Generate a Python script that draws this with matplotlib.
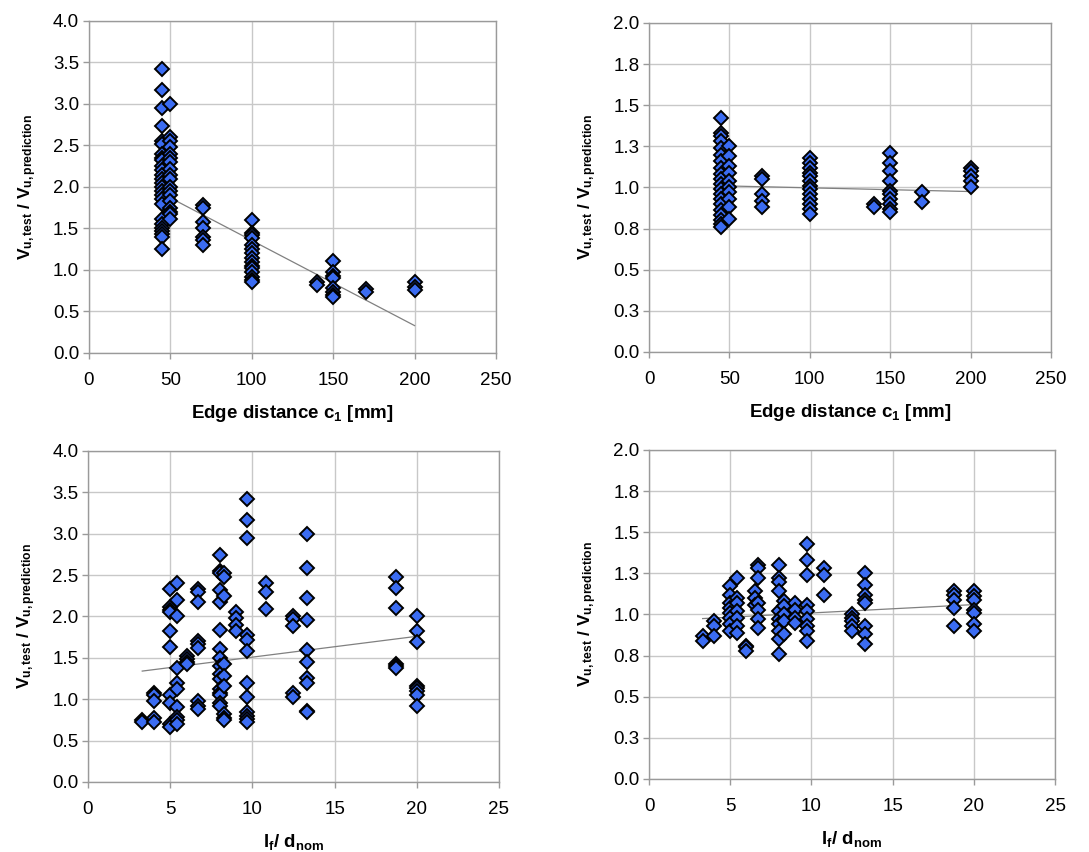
import numpy as np
import matplotlib
matplotlib.use("Agg")
import matplotlib.pyplot as plt

plt.rcParams['font.family'] = ['Liberation Sans', 'DejaVu Sans']
plt.rcParams['mathtext.fontset'] = 'custom'
plt.rcParams['mathtext.rm'] = 'Liberation Sans'
plt.rcParams['mathtext.bf'] = 'Liberation Sans:bold'
plt.rcParams['mathtext.it'] = 'Liberation Sans:italic'

#------------------------------------------------------------------------------
# Datos (agrupados por columna x)

# Arriba izquierda: distancia al borde c1 vs Vu,test/Vu,prediction
c1_izq = {
    45: [3.42, 3.17, 2.95, 2.73, 2.55, 2.52, 2.40, 2.35, 2.32, 2.25, 2.20, 2.15, 2.10,
         2.05, 2.00, 1.95, 1.90, 1.85, 1.80, 1.62, 1.55, 1.50, 1.47, 1.43, 1.40, 1.25],
    50: [3.00, 2.60, 2.55, 2.48, 2.40, 2.35, 2.30, 2.22, 2.15, 2.10, 2.00, 1.95, 1.90,
         1.83, 1.75, 1.70, 1.67, 1.62],
    70: [1.78, 1.75, 1.58, 1.50, 1.40, 1.36, 1.30],
    100: [1.60, 1.45, 1.42, 1.38, 1.30, 1.25, 1.20, 1.15, 1.10, 1.05, 1.02, 0.97,
          0.92, 0.88, 0.85],
    140: [0.85, 0.82],
    150: [1.11, 0.97, 0.93, 0.90, 0.78, 0.73, 0.70, 0.67],
    170: [0.77, 0.73],
    200: [0.85, 0.80, 0.76],
}
tend_c1_izq_x = [45, 200]
tend_c1_izq_y = [1.92, 0.33]

# Arriba derecha
c1_der = {
    45: [1.42, 1.33, 1.31, 1.28, 1.24, 1.20, 1.16, 1.12, 1.08, 1.05, 1.02, 0.99, 0.96,
         0.93, 0.90, 0.86, 0.83, 0.80, 0.78, 0.76],
    50: [1.25, 1.19, 1.13, 1.09, 1.04, 1.00, 0.97, 0.93, 0.88, 0.81],
    70: [1.07, 1.05, 0.96, 0.92, 0.88],
    100: [1.18, 1.15, 1.12, 1.09, 1.07, 1.04, 1.01, 0.99, 0.96, 0.93, 0.90, 0.87, 0.84],
    140: [0.90, 0.88],
    150: [1.21, 1.15, 1.10, 1.04, 0.98, 0.96, 0.93, 0.90, 0.87, 0.85],
    170: [0.97, 0.91],
    200: [1.12, 1.10, 1.07, 1.04, 1.00],
}
tend_c1_der_x = [45, 200]
tend_c1_der_y = [1.01, 0.975]

# Abajo izquierda: lf/dnom vs Vu,test/Vu,prediction
lf_izq = {
    3.3: [0.75, 0.73],
    4.0: [1.08, 1.05, 0.98, 0.77, 0.73],
    5.0: [2.33, 2.12, 2.08, 2.05, 1.82, 1.63, 1.05, 0.96, 0.70, 0.67],
    5.4: [2.40, 2.20, 2.00, 1.38, 1.19, 1.12, 0.90, 0.78, 0.75, 0.70],
    6.0: [1.52, 1.48, 1.45, 1.42],
    6.7: [2.33, 2.30, 2.17, 1.70, 1.67, 1.62, 0.98, 0.92, 0.88],
    8.0: [2.74, 2.55, 2.52, 2.32, 2.18, 1.84, 1.61, 1.50, 1.40, 1.30, 1.25, 1.12,
          1.08, 1.05, 0.95, 0.92],
    8.3: [2.53, 2.48, 2.25, 1.42, 1.28, 1.16, 0.82, 0.77, 0.75],
    9.0: [2.05, 1.98, 1.90, 1.82],
    9.7: [3.42, 3.17, 2.95, 1.78, 1.72, 1.58, 1.20, 1.03, 0.85, 0.80, 0.76, 0.73],
    10.8: [2.40, 2.30, 2.09],
    12.5: [2.00, 1.97, 1.88, 1.07, 1.03],
    13.3: [3.00, 2.59, 2.22, 1.96, 1.60, 1.45, 1.26, 1.19, 0.86, 0.84],
    18.75: [2.48, 2.34, 2.10, 1.43, 1.40, 1.38],
    20.0: [2.00, 1.83, 1.69, 1.16, 1.13, 1.10, 1.05, 0.92],
}
tend_lf_izq_x = [3.3, 20]
tend_lf_izq_y = [1.34, 1.76]

# Abajo derecha
lf_der = {
    3.3: [0.87, 0.84],
    4.0: [0.96, 0.93, 0.87],
    5.0: [1.17, 1.12, 1.07, 1.04, 1.01, 0.98, 0.94, 0.90],
    5.4: [1.22, 1.10, 1.07, 1.02, 0.98, 0.93, 0.89],
    6.0: [0.81, 0.80, 0.78],
    6.5: [1.14, 1.10, 1.06],
    6.7: [1.30, 1.28, 1.22, 1.07, 1.03, 0.97, 0.92],
    8.0: [1.30, 1.22, 1.20, 1.14, 1.02, 0.97, 0.94, 0.90, 0.85, 0.76],
    8.3: [1.08, 1.05, 1.00, 0.96, 0.88],
    9.0: [1.07, 1.03, 0.98, 0.95],
    9.7: [1.43, 1.33, 1.24, 1.06, 1.02, 0.97, 0.93, 0.90, 0.84],
    10.8: [1.28, 1.24, 1.12],
    12.5: [1.00, 0.98, 0.96, 0.93, 0.90],
    13.3: [1.25, 1.18, 1.12, 1.09, 1.07, 0.93, 0.88, 0.82],
    18.75: [1.14, 1.12, 1.09, 1.04, 0.93],
    20.0: [1.14, 1.11, 1.09, 1.03, 1.01, 0.94, 0.90],
}
tend_lf_der_x = [3.3, 20]
tend_lf_der_y = [0.975, 1.06]

#------------------------------------------------------------------------------

ylabel = r'$\mathbf{V_{u,test}\ /\ V_{u,prediction}}$'
xlabel_c1 = r'Edge distance c$_\mathbf{1}$ [mm]'
xlabel_lf = r'l$_\mathbf{f}$/ d$_\mathbf{nom}$'

azul = '#3b6cf2'

def graficar(ax, grupos, tx, ty, xmax, xstep, ymax, ystep, xlabel):
    xs, ys = [], []
    for x, vals in grupos.items():
        xs += [x] * len(vals)
        ys += vals
    ax.plot(tx, ty, color='#808080', lw=0.9, zorder=2)
    ax.plot(xs, ys, 'D', ms=7, mfc=azul, mec='black', mew=1.4, zorder=3,
            clip_on=False)
    ax.set_xlim(0, xmax)
    ax.set_ylim(0, ymax)
    ax.set_xticks(np.arange(0, xmax + xstep / 2, xstep))
    yt = np.arange(0, ymax + ystep / 2, ystep)
    ax.set_yticks(yt)
    # Excel redondea a un decimal (0.25 -> 0.3)
    ax.set_yticklabels(['%.1f' % (np.floor(v * 10 + 0.5) / 10) for v in yt])
    ax.grid(True, color='#c8c8c8', lw=1.0)
    ax.set_axisbelow(True)
    for s in ax.spines.values():
        s.set_color('#9a9a9a')
        s.set_linewidth(1.0)
    ax.tick_params(direction='out', length=4, width=1, color='#9a9a9a',
                   labelsize=13.5)
    ax.tick_params(axis='x', pad=10)
    ax.tick_params(axis='y', pad=3)
    ax.set_xlabel(xlabel, fontsize=13.5, fontweight='bold', labelpad=10)
    ax.set_ylabel(ylabel, fontsize=12.5, labelpad=10)

fig = plt.figure(figsize=(10.89, 8.52), dpi=100)
ax1 = fig.add_axes([0.0817, 0.5857, 0.3737, 0.3897])
ax2 = fig.add_axes([0.5960, 0.5869, 0.3690, 0.3862])
ax3 = fig.add_axes([0.0808, 0.0822, 0.3774, 0.3885])
ax4 = fig.add_axes([0.5960, 0.0857, 0.3728, 0.3862])

graficar(ax1, c1_izq, tend_c1_izq_x, tend_c1_izq_y, 250, 50, 4.0, 0.5, xlabel_c1)
graficar(ax2, c1_der, tend_c1_der_x, tend_c1_der_y, 250, 50, 2.0, 0.25, xlabel_c1)
graficar(ax3, lf_izq, tend_lf_izq_x, tend_lf_izq_y, 25, 5, 4.0, 0.5, xlabel_lf)
graficar(ax4, lf_der, tend_lf_der_x, tend_lf_der_y, 25, 5, 2.0, 0.25, xlabel_lf)

fig.savefig('out.png', dpi=100)
